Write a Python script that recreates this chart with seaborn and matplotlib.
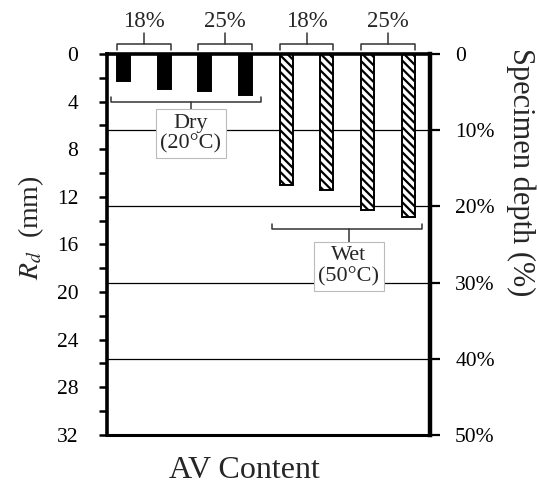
import matplotlib
matplotlib.use("Agg")
import matplotlib.pyplot as plt
import numpy as np
import pandas as pd
import seaborn as sns
from matplotlib.lines import Line2D
from matplotlib.ticker import FixedLocator, FuncFormatter, MultipleLocator

# Rut depth per specimen: two replicates per AV content, dry and wet conditioning
conditions = ["Dry", "Dry", "Dry", "Dry", "Wet", "Wet", "Wet", "Wet"]
av_content = ["18%", "18%", "25%", "25%", "18%", "18%", "25%", "25%"]
rd_mm = [2.3, 2.9, 3.1, 3.4, 11.0, 11.4, 13.1, 13.7]
condition_labels = {"Dry": "Dry\n(20°C)", "Wet": "Wet\n(50°C)"}
rd_ticks = [0, 4, 8, 12, 16, 20, 24, 28, 32]
depth_ticks_pct = [0, 10, 20, 30, 40, 50]
specimen_depth_mm = 64

sns.set_style("ticks")
plt.rcParams["font.family"] = ["Liberation Serif", "DejaVu Serif"]
plt.rcParams["mathtext.fontset"] = "stix"
plt.rcParams["hatch.linewidth"] = 1.6

bar_ids = [f"s{i}" for i in range(len(rd_mm))]
df = pd.DataFrame({"bar": bar_ids, "rd": rd_mm, "cond": conditions, "av": av_content})

fig = plt.figure(figsize=(5.37, 4.87), dpi=100)
ax = fig.add_axes([0.200, 0.107, 0.601, 0.782])

sns.barplot(data=df, x="bar", y="rd", hue="cond", order=bar_ids,
            palette={"Dry": "black", "Wet": "white"}, dodge=False,
            width=0.32, edgecolor="black", linewidth=1.4, legend=False,
            ax=ax, zorder=2)

bar_w = 0.32
for p in ax.patches:
    idx = int(round(p.get_x() + p.get_width() / 2))
    if conditions[idx] == "Wet":
        p.set_hatch("\\\\\\\\")

ax.set_xlim(-0.4, 7.54)
ax.set_ylim(rd_ticks[-1], rd_ticks[0])

# horizontal reference lines at each 10% of specimen depth
for pct in depth_ticks_pct[1:-1]:
    ax.axhline(pct / 100 * specimen_depth_mm, color="black", lw=0.9, zorder=0.5)

ax.set_xticks([])
ax.yaxis.set_major_locator(FixedLocator(rd_ticks))
ax.yaxis.set_minor_locator(MultipleLocator(2))
ax.tick_params(axis="y", which="both", direction="out", length=6, width=1.8,
               labelsize=15.5, pad=15, colors="black")
ax.set_xlabel("AV Content", fontsize=23)
ax.xaxis.set_label_coords(0.426, -0.055)
ax.set_ylabel(r"$R_d$  (mm)", fontsize=20)
ax.yaxis.set_label_coords(-0.19, 0.543)

for side, lw in [("top", 2.6), ("left", 2.6), ("bottom", 2.2)]:
    ax.spines[side].set_linewidth(lw)
    ax.spines[side].set_color("black")
ax.spines["right"].set_visible(False)

ax2 = ax.twinx()
ax2.set_ylim(depth_ticks_pct[-1], depth_ticks_pct[0])
ax2.yaxis.set_major_locator(FixedLocator(depth_ticks_pct))
ax2.yaxis.set_major_formatter(FuncFormatter(lambda v, _: "0" if v == 0 else f"{int(v)}%"))
ax2.tick_params(axis="y", direction="out", length=7, width=1.6, labelsize=15.5,
                pad=11, colors="black")
for side in ["top", "left", "bottom"]:
    ax2.spines[side].set_visible(False)
ax2.spines["right"].set_linewidth(3.2)
ax2.spines["right"].set_color("black")
ax2.set_ylabel("Specimen depth (%)", fontsize=22, rotation=270,
               ha="center", va="center")
ax2.yaxis.set_label_coords(1.28, 0.69)

line_kw = dict(color="#333333", lw=1.1, clip_on=False, zorder=5)

# brackets above each AV-content pair
for k in range(0, len(rd_mm), 2):
    x0, x1 = k - bar_w / 2, k + 1 + bar_w / 2
    xm = (x0 + x1) / 2
    yb, yh, yt = -0.84, -0.35, -1.75
    ax.add_line(Line2D([x0, x0, x1, x1], [yh, yb, yb, yh], **line_kw))
    ax.add_line(Line2D([xm, xm], [yb, yt], **line_kw))
    ax.text(xm, -2.75, av_content[k], ha="center", va="center", fontsize=16.5,
            clip_on=False)

# brackets below each conditioning group with boxed labels:
# (bracket y, hook-end y, stem end y, left pad, right pad, stem x shift)
groups = {"Dry": (4.0, 3.6, 4.95, 0.31, 0.39, 0.15),
          "Wet": (14.7, 14.3, 16.1, 0.36, 0.33, 0.04)}
for cond, (yb, yh, yt, lpad, rpad, dx) in groups.items():
    idx = [i for i, c in enumerate(conditions) if c == cond]
    x0, x1 = idx[0] - lpad, idx[-1] + rpad
    xm = (idx[0] + idx[-1]) / 2 + dx
    ax.add_line(Line2D([x0, x0, x1, x1], [yh, yb, yb, yh], **line_kw))
    ax.add_line(Line2D([xm, xm], [yb, yt], **line_kw))
    ax.text(xm, yt + 0.05, condition_labels[cond], ha="center", va="top",
            fontsize=16, linespacing=1.1, multialignment="center", zorder=6,
            bbox=dict(boxstyle="square,pad=0.2", fc="white", ec="#bbbbbb", lw=0.8))

fig.savefig("out.png", dpi=100)
